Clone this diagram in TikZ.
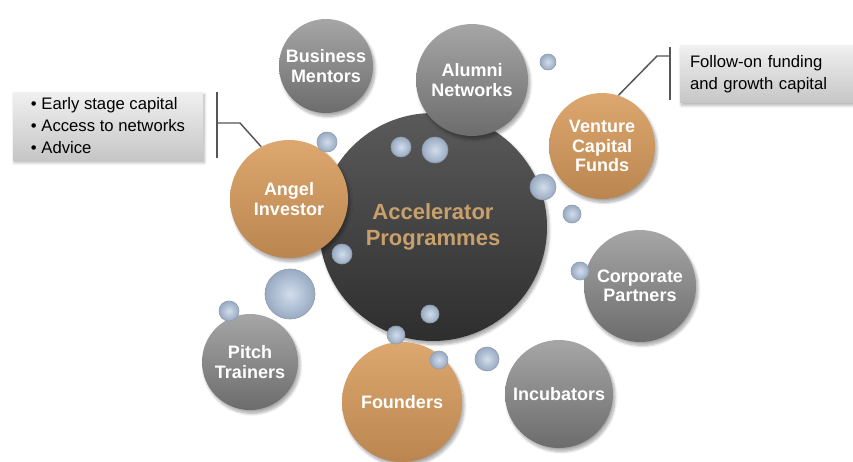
\documentclass[tikz,border=0pt]{standalone}
\usepackage{fontspec}
\setmainfont{Liberation Sans}
\usetikzlibrary{shadows.blur}
\definecolor{coreTop}{HTML}{5A5A5A}
\definecolor{coreBot}{HTML}{2E2E2E}
\definecolor{greyTop}{HTML}{A6A6A6}
\definecolor{greyBot}{HTML}{6C6C6C}
\definecolor{tanTop}{HTML}{DCA86F}
\definecolor{tanBot}{HTML}{BA854F}
\definecolor{tanText}{HTML}{C9A06B}
\definecolor{dropIn}{HTML}{D2DDEB}
\definecolor{dropOut}{HTML}{98AAC2}
\definecolor{boxTop}{HTML}{F0F0F0}
\definecolor{boxBot}{HTML}{C6C6C6}
\definecolor{bracket}{HTML}{555555}

\begin{document}
\begin{tikzpicture}[x=0.75pt,y=-0.75pt,
    ball/.style={circle, inner sep=0pt, minimum size=#1*1.5pt, align=center,
        text=white, font=\fontsize{13.5}{14.5}\selectfont\bfseries,
        blur shadow={shadow xshift=1.5pt, shadow yshift=-2.5pt, shadow blur steps=8, shadow opacity=35}},
    greyball/.style={ball=#1, top color=greyTop, bottom color=greyBot},
    tanball/.style={ball=#1, top color=tanTop, bottom color=tanBot},
    drop/.style={circle, inner sep=0pt, minimum size=#1*1.5pt, draw=dropOut!70!gray, line width=0.5pt,
        shading=radial, inner color=dropIn, outer color=dropOut},
    infobox/.style={rectangle, inner sep=0pt, align=left, font=\fontsize{12.5}{16.5}\selectfont,
        top color=boxTop, bottom color=boxBot,
        blur shadow={shadow xshift=1pt, shadow yshift=-2pt, shadow blur steps=6, shadow opacity=30}},
    link/.style={draw=bracket, line width=1.1pt}
]
    \useasboundingbox (0,0) rectangle (853,461);

    \node[ball=114, top color=coreTop, bottom color=coreBot, text=tanText,
          font=\fontsize{16.5}{19}\selectfont\bfseries] (core) at (433,227) {Accelerator\\Programmes};

    \node[greyball=47] (mentors) at (326,66) {Business\\Mentors};
    \node[greyball=56] (alumni) at (472,80) {Alumni\\Networks};
    \node[tanball=53] (vc) at (602,146) {Venture\\Capital\\Funds};
    \node[tanball=59] (angel) at (289,199) {Angel\\Investor};
    \node[greyball=56] (corporate) at (640,286) {Corporate\\Partners};
    \node[greyball=48] (pitch) at (250,362) {Pitch\\Trainers};
    \node[tanball=60] (founders) at (402,402) {Founders};
    \node[greyball=54] (incubators) at (559,394) {Incubators};

    \node[drop=8] (d1) at (548,62) {};
    \node[drop=10] (d2) at (327,142) {};
    \node[drop=10] (d3) at (401,147) {};
    \node[drop=13] (d4) at (435,150) {};
    \node[drop=13] (d5) at (543,187) {};
    \node[drop=9] (d6) at (572,214) {};
    \node[drop=10] (d7) at (342,254) {};
    \node[drop=9] (d8) at (580,271) {};
    \node[drop=25] (d9) at (290,294) {};
    \node[drop=10] (d10) at (229,311) {};
    \node[drop=9] (d11) at (430,314) {};
    \node[drop=9] (d12) at (396,335) {};
    \node[drop=9] (d13) at (439,360) {};
    \node[drop=12] (d14) at (487,359) {};

    \node[infobox, minimum width=142.5pt, minimum height=51pt] (perks) at (108,126)
        {\textbullet\ Early stage capital\\\textbullet\ Access to networks\\\textbullet\ Advice};
    \node[infobox, minimum width=135pt, minimum height=43pt, text width=120pt] (followon) at (770,74)
        {Follow-on funding\\and growth capital};

    \coordinate (lTop) at (217,92);
    \coordinate (lBot) at (217,158);
    \coordinate (lMid) at (217,123);
    \coordinate (lKnee) at (240,123);
    \draw[link] (lTop) -- (lBot);
    \draw[link] (lMid) -- (lKnee) -- (angel.118);

    \coordinate (rTop) at (670,47);
    \coordinate (rBot) at (670,100);
    \coordinate (rMid) at (670,56);
    \coordinate (rKnee) at (657,56);
    \draw[link] (rTop) -- (rBot);
    \draw[link] (rMid) -- (rKnee) -- (vc.72);
\end{tikzpicture}
\end{document}
